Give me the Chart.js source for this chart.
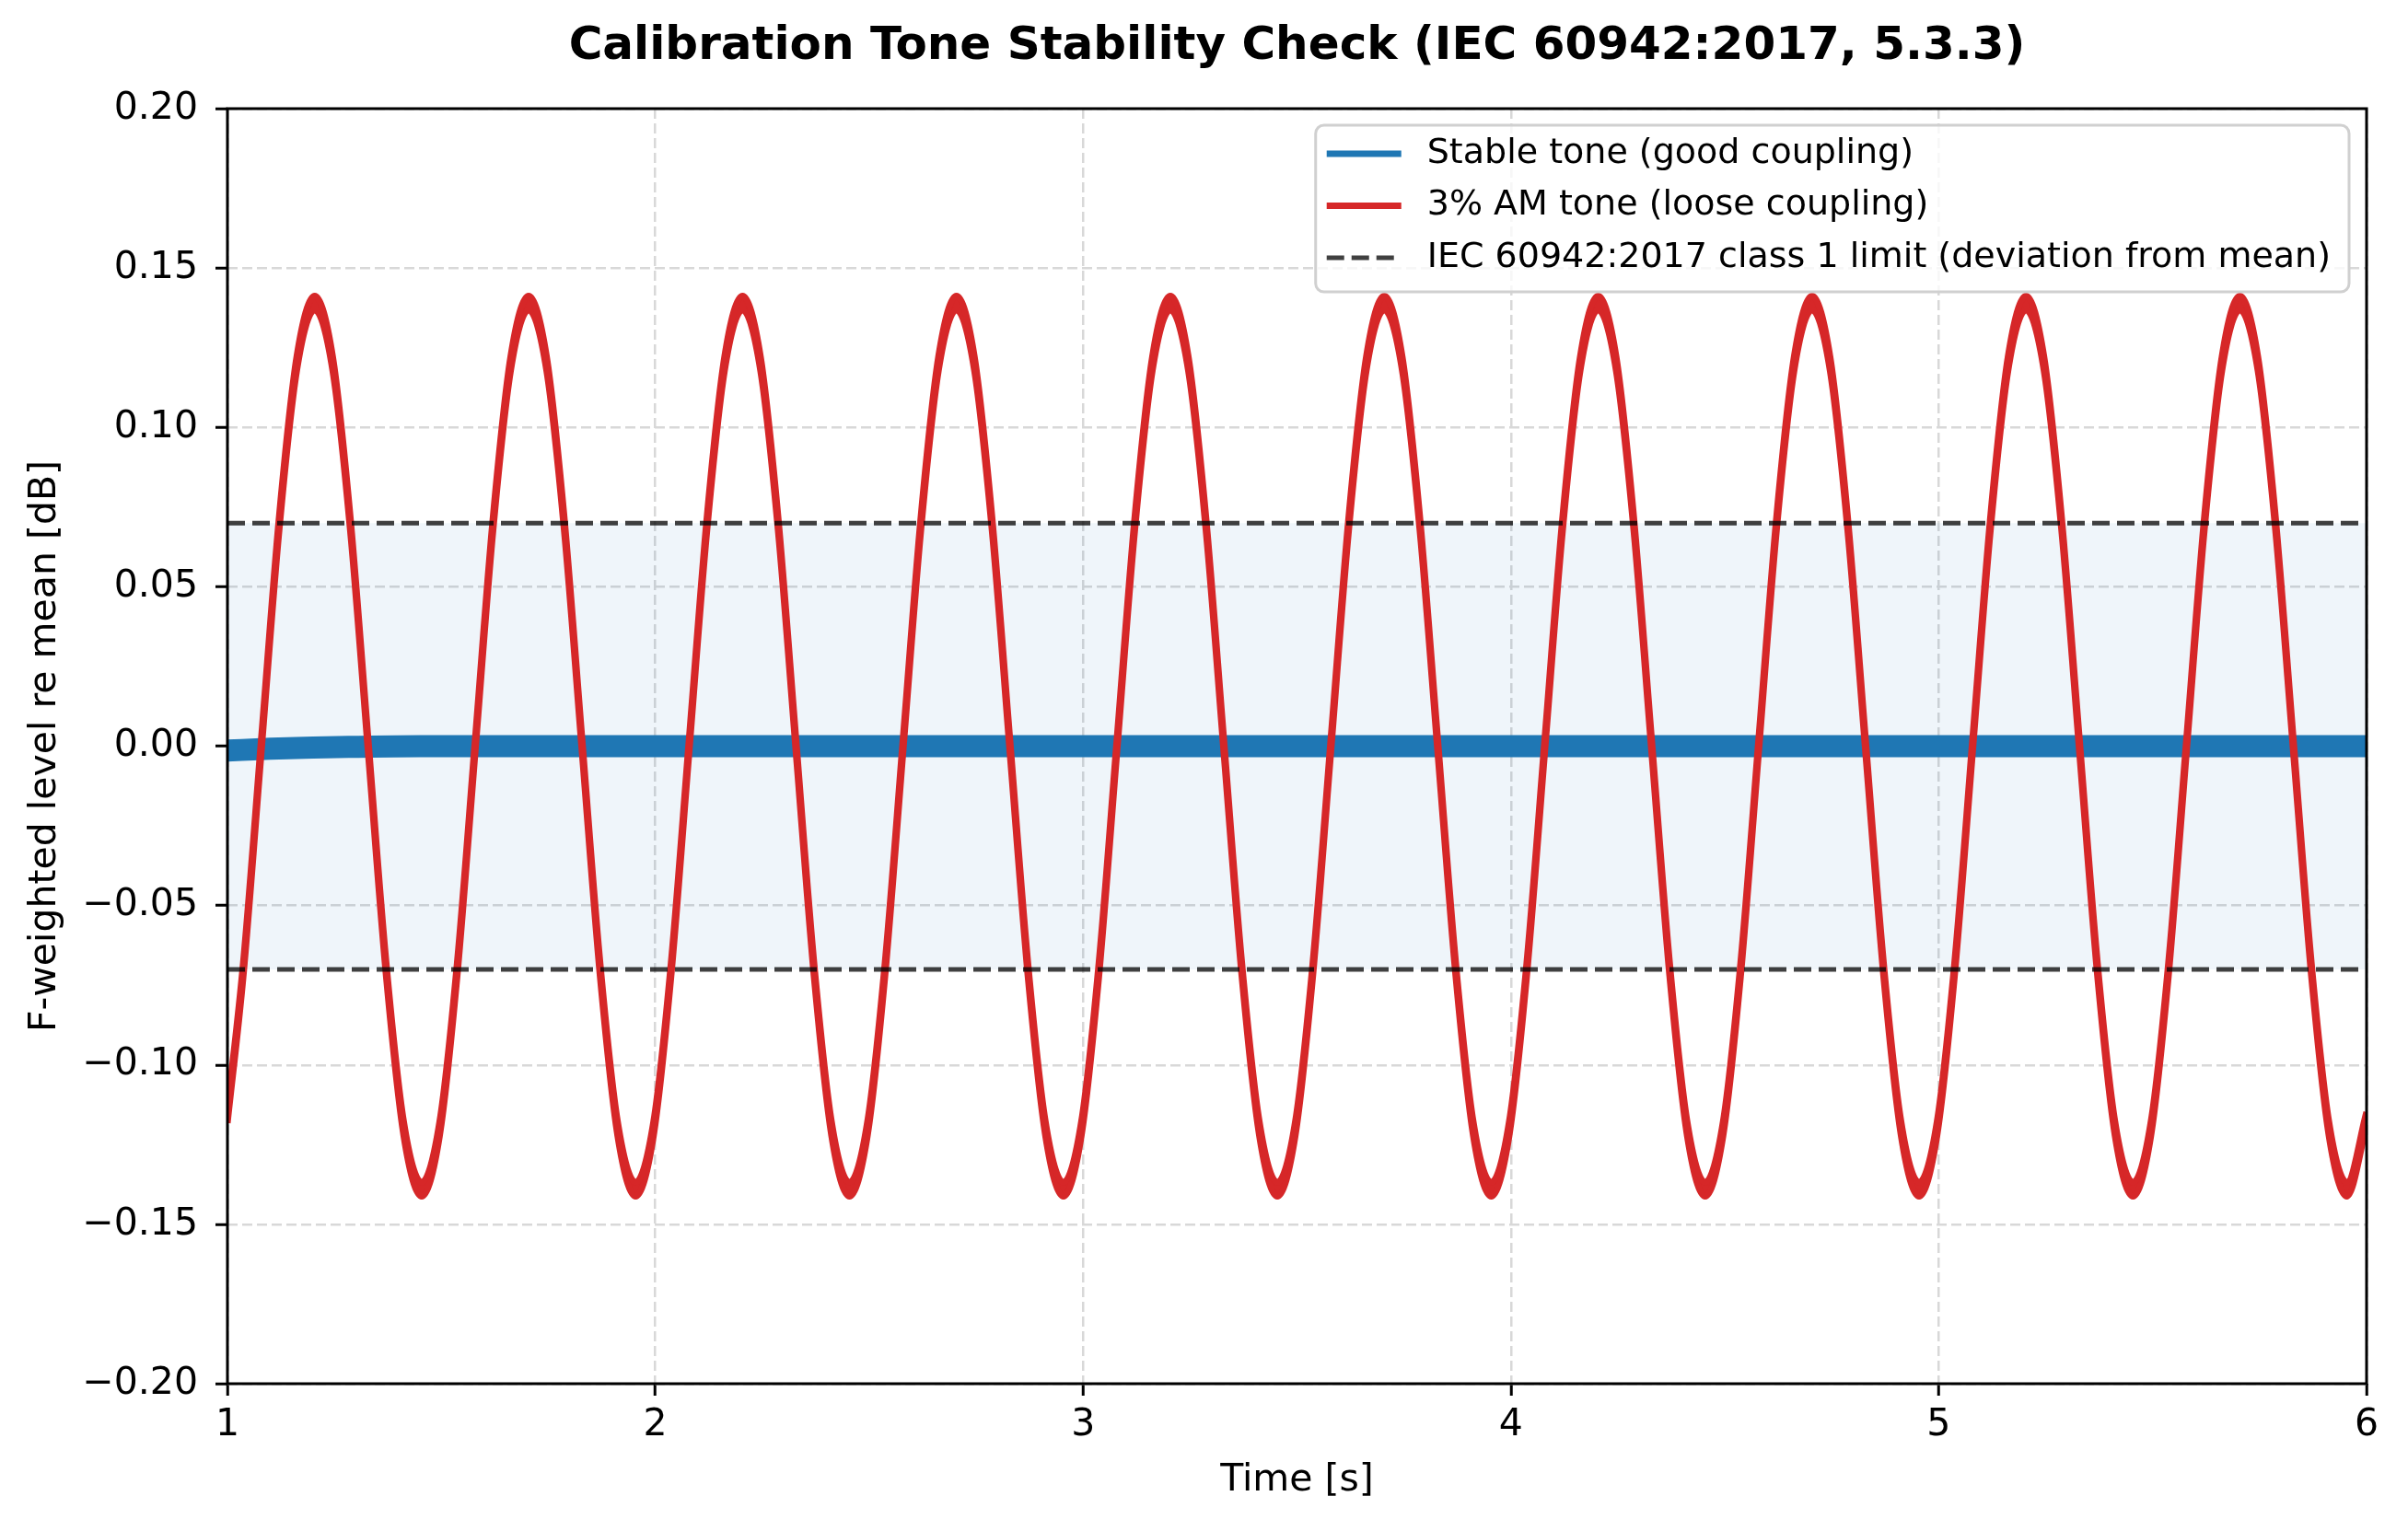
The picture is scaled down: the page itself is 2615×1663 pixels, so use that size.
<!DOCTYPE html>
<html>
<head>
<meta charset="utf-8">
<script src="https://cdn.jsdelivr.net/npm/chart.js@4"></script>
<style>
  html, body { margin: 0; padding: 0; background: #fff; }
  canvas { display: block; }
</style>
</head>
<body>
<canvas id="chart" width="2615" height="1663"></canvas>
<script>
const chartTitle = "Calibration Tone Stability Check (IEC 60942:2017, 5.3.3)";
const xTitle = "Time [s]";
const yTitle = "F-weighted level re mean [dB]";
const seriesLabels = [
  "Stable tone (good coupling)",
  "3% AM tone (loose coupling)",
  "IEC 60942:2017 class 1 limit (deviation from mean)"
];

// stable tone: settles to 0 within the first half second
const stableTime  = [1.00, 1.10, 1.20, 1.30, 1.45, 2.00, 3.00, 4.00, 5.00, 6.00];
const stableLevel = [-0.0014, -0.0008, -0.0004, -0.0002, 0.0, 0.0, 0.0, 0.0, 0.0, 0.0];

// 3% AM tone (2 Hz wobble)
const amTime = [
  1.000, 1.037, 1.079, 1.121, 1.162,
  1.204, 1.246, 1.287, 1.329, 1.371, 1.412, 1.454, 1.496, 1.537, 1.579, 1.621, 1.662,
  1.704, 1.746, 1.787, 1.829, 1.871, 1.912, 1.954, 1.996, 2.037, 2.079, 2.121, 2.162,
  2.204, 2.246, 2.287, 2.329, 2.371, 2.412, 2.454, 2.496, 2.537, 2.579, 2.621, 2.662,
  2.704, 2.746, 2.787, 2.829, 2.871, 2.912, 2.954, 2.996, 3.037, 3.079, 3.121, 3.162,
  3.204, 3.246, 3.287, 3.329, 3.371, 3.412, 3.454, 3.496, 3.537, 3.579, 3.621, 3.662,
  3.704, 3.746, 3.787, 3.829, 3.871, 3.912, 3.954, 3.996, 4.037, 4.079, 4.121, 4.162,
  4.204, 4.246, 4.287, 4.329, 4.371, 4.412, 4.454, 4.496, 4.537, 4.579, 4.621, 4.662,
  4.704, 4.746, 4.787, 4.829, 4.871, 4.912, 4.954, 4.996, 5.037, 5.079, 5.121, 5.162,
  5.204, 5.246, 5.287, 5.329, 5.371, 5.412, 5.454, 5.496, 5.537, 5.579, 5.621, 5.662,
  5.704, 5.746, 5.787, 5.829, 5.871, 5.912, 5.954, 6.000
];
const amLevel = [
  -0.116, -0.070, 0.000, 0.070, 0.120,
  0.139, 0.120, 0.070, 0.000, -0.070, -0.120, -0.139, -0.120, -0.070, 0.000, 0.070, 0.120,
  0.139, 0.120, 0.070, 0.000, -0.070, -0.120, -0.139, -0.120, -0.070, 0.000, 0.070, 0.120,
  0.139, 0.120, 0.070, 0.000, -0.070, -0.120, -0.139, -0.120, -0.070, 0.000, 0.070, 0.120,
  0.139, 0.120, 0.070, 0.000, -0.070, -0.120, -0.139, -0.120, -0.070, 0.000, 0.070, 0.120,
  0.139, 0.120, 0.070, 0.000, -0.070, -0.120, -0.139, -0.120, -0.070, 0.000, 0.070, 0.120,
  0.139, 0.120, 0.070, 0.000, -0.070, -0.120, -0.139, -0.120, -0.070, 0.000, 0.070, 0.120,
  0.139, 0.120, 0.070, 0.000, -0.070, -0.120, -0.139, -0.120, -0.070, 0.000, 0.070, 0.120,
  0.139, 0.120, 0.070, 0.000, -0.070, -0.120, -0.139, -0.120, -0.070, 0.000, 0.070, 0.120,
  0.139, 0.120, 0.070, 0.000, -0.070, -0.120, -0.139, -0.120, -0.070, 0.000, 0.070, 0.120,
  0.139, 0.120, 0.070, 0.000, -0.070, -0.120, -0.139, -0.117
];
// fast ripple on the AM tone (half width of the red band)
const amRipple = 0.0022;

const classOneLimit = 0.07;
const xTicks = [1, 2, 3, 4, 5, 6];
const yTicks = [-0.20, -0.15, -0.10, -0.05, 0.00, 0.05, 0.10, 0.15, 0.20];

const FONT = "'DejaVu Sans'";
Chart.defaults.font.family = FONT;
Chart.defaults.color = "#000";

const toPoints = (ts, ys) => ts.map((t, i) => ({ x: t, y: ys[i] }));
const stablePoints = toPoints(stableTime, stableLevel);
const amUpper = toPoints(amTime, amLevel.map(v => v + amRipple));
const amLower = toPoints(amTime, amLevel.map(v => v - amRipple));
const limitUpper = [{ x: xTicks[0], y: classOneLimit }, { x: xTicks[xTicks.length - 1], y: classOneLimit }];
const limitLower = [{ x: xTicks[0], y: -classOneLimit }, { x: xTicks[xTicks.length - 1], y: -classOneLimit }];

const fmtY = v => (v < -1e-9 ? "\u2212" : "") + Math.abs(v).toFixed(2);

// title centred over the axes like matplotlib
const titlePlugin = {
  id: "plotTitle",
  afterDraw(chart) {
    const { ctx, chartArea: a } = chart;
    ctx.save();
    ctx.font = "bold 50px " + FONT;
    ctx.fillStyle = "#000";
    ctx.textAlign = "center";
    ctx.textBaseline = "middle";
    ctx.fillText(chartTitle, (a.left + a.right) / 2, 51);
    ctx.restore();
  }
};

// black box around the plot
const framePlugin = {
  id: "frame",
  afterDatasetsDraw(chart) {
    const { ctx, chartArea: a } = chart;
    ctx.save();
    ctx.strokeStyle = "#000";
    ctx.lineWidth = 3;
    ctx.strokeRect(a.left, a.top, a.right - a.left, a.bottom - a.top);
    ctx.restore();
  }
};

// legend in the upper right corner
const legendPlugin = {
  id: "cornerLegend",
  afterDraw(chart) {
    const { ctx, chartArea: a } = chart;
    const items = [
      { ds: chart.data.datasets[0], width: 7, dash: [] },
      { ds: chart.data.datasets[1], width: 7, dash: [] },
      { ds: chart.data.datasets[3], width: 5, dash: [19, 8] }
    ];
    ctx.save();
    ctx.font = "38px " + FONT;
    const textW = Math.max(...items.map(it => ctx.measureText(it.ds.label).width));
    const boxW = 121 + textW + 20;
    const boxH = 181;
    const right = a.right - 19;
    const left = right - boxW;
    const top = a.top + 18;

    ctx.beginPath();
    ctx.roundRect(left, top, boxW, boxH, 9);
    ctx.fillStyle = "rgba(255,255,255,0.8)";
    ctx.fill();
    ctx.lineWidth = 3;
    ctx.strokeStyle = "#d0d0d0";
    ctx.stroke();

    items.forEach((it, i) => {
      const y = top + 31 + i * 56.5;
      ctx.beginPath();
      ctx.setLineDash(it.dash);
      ctx.lineWidth = it.width;
      ctx.strokeStyle = it.ds.borderColor;
      ctx.moveTo(left + 12, y);
      ctx.lineTo(left + 93, y);
      ctx.stroke();
      ctx.setLineDash([]);
      ctx.fillStyle = "#000";
      ctx.textAlign = "left";
      ctx.textBaseline = "middle";
      ctx.fillText(it.ds.label, left + 121, y);
    });
    ctx.restore();
  }
};

const gridOpts = {
  color: "#d8d8d8",
  lineWidth: 2.5,
  tickColor: "#000",
  tickWidth: 3,
  tickLength: 13
};

new Chart(document.getElementById("chart"), {
  type: "line",
  data: {
    datasets: [
      {
        label: seriesLabels[0],
        data: stablePoints,
        borderColor: "#1f77b4",
        borderWidth: 24,
        pointRadius: 0,
        cubicInterpolationMode: "monotone",
        fill: false,
        clip: 0,
        order: 2
      },
      {
        label: seriesLabels[1],
        data: amUpper,
        borderColor: "#d62728",
        borderWidth: 7,
        pointRadius: 0,
        cubicInterpolationMode: "monotone",
        fill: false,
        clip: 0,
        order: 1
      },
      {
        label: "",
        data: amLower,
        borderColor: "#d62728",
        backgroundColor: "#d62728",
        borderWidth: 7,
        pointRadius: 0,
        cubicInterpolationMode: "monotone",
        fill: "-1",
        clip: 0,
        order: 1
      },
      {
        label: seriesLabels[2],
        data: limitUpper,
        borderColor: "rgba(0,0,0,0.75)",
        borderWidth: 5,
        borderDash: [19, 8],
        pointRadius: 0,
        fill: false,
        clip: 0,
        order: 0
      },
      {
        label: "",
        data: limitLower,
        borderColor: "rgba(0,0,0,0.75)",
        backgroundColor: "rgba(31,119,180,0.07)",
        borderWidth: 5,
        borderDash: [19, 8],
        pointRadius: 0,
        fill: "-1",
        clip: 0,
        order: 0
      }
    ]
  },
  options: {
    responsive: false,
    animation: false,
    devicePixelRatio: 1,
    layout: { padding: { top: 118, right: 45, bottom: 0, left: 0 } },
    plugins: {
      legend: { display: false },
      tooltip: { enabled: false },
      filler: { drawTime: "beforeDatasetsDraw" }
    },
    scales: {
      x: {
        type: "linear",
        min: xTicks[0],
        max: xTicks[xTicks.length - 1],
        afterBuildTicks: s => { s.ticks = xTicks.map(v => ({ value: v })); },
        afterFit: s => { s.height = 160; },
        ticks: { font: { size: 41 }, padding: 8, maxRotation: 0, autoSkip: false, callback: v => String(v) },
        grid: gridOpts,
        border: { display: false, dash: [11, 5] },
        title: { display: true, text: xTitle, font: { size: 41 }, padding: { top: 0, bottom: 30 } }
      },
      y: {
        min: yTicks[0],
        max: yTicks[yTicks.length - 1],
        afterBuildTicks: s => { s.ticks = yTicks.map(v => ({ value: v })); },
        afterFit: s => { s.width = 247; },
        ticks: { font: { size: 41 }, padding: 19, autoSkip: false, callback: v => fmtY(v) },
        grid: gridOpts,
        border: { display: false, dash: [11, 5] },
        title: { display: true, text: yTitle, font: { size: 41 }, padding: { top: 25, bottom: 0 } }
      }
    }
  },
  plugins: [titlePlugin, framePlugin, legendPlugin]
});
</script>
</body>
</html>
